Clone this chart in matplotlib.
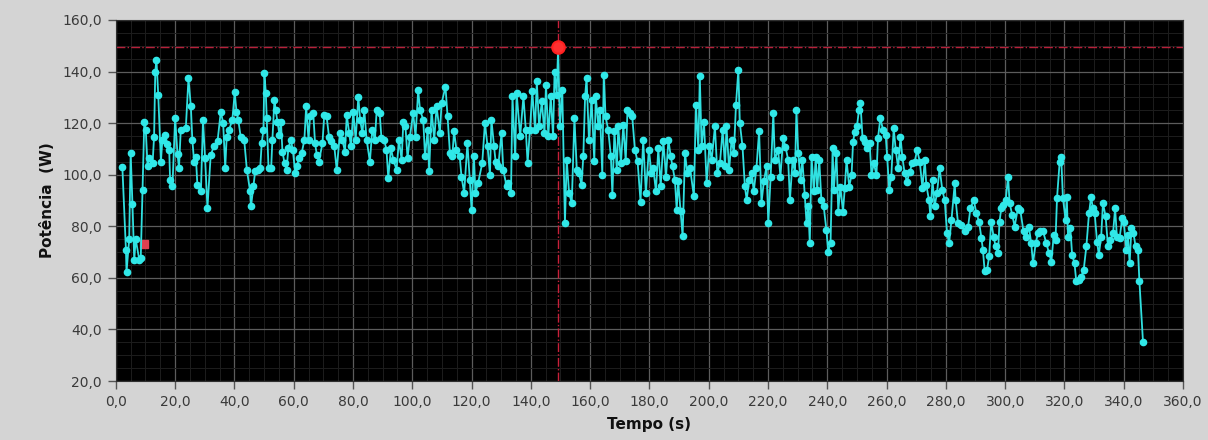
import numpy as np
import matplotlib
matplotlib.use("Agg")
import matplotlib.pyplot as plt
from matplotlib.ticker import MultipleLocator, FuncFormatter

# tempo (s) e potência (W)
tempo = [
    2.2, 3.4, 3.6, 4.5, 5.0, 5.6, 6.2, 6.7, 7.9, 8.4, 9.0, 9.6, 10.1, 10.7, 11.2, 12.4, 12.9, 13.3, 13.7, 14.3,
    15.2, 15.7, 16.6, 17.4, 18.0, 18.3, 19.1, 20.0, 20.8, 21.3, 21.9, 23.6, 24.5, 25.3, 25.8, 26.4, 27.0, 27.5, 28.7, 29.4,
    30.1, 30.9, 32.0, 33.1, 34.3, 35.4, 36.2, 36.9, 37.4, 38.2, 39.3, 40.1, 40.7, 41.3, 42.1, 43.3,
    44.2, 45.3, 45.6, 46.4, 47.0, 47.9, 48.7, 49.2, 49.8, 50.1, 50.6, 50.9, 51.5, 52.4, 52.8, 53.5, 53.9, 54.5, 55.2, 55.7,
    56.2, 56.9, 57.6, 58.2, 59.0, 59.7, 60.5, 61.0, 61.8, 62.7, 63.6, 64.2, 65.0, 65.5, 66.6, 67.2, 67.8, 68.5, 69.7, 70.3,
    71.1, 71.9, 72.6, 73.7, 74.5, 75.6, 76.4, 77.3, 77.9, 78.7, 79.3, 80.1, 80.9, 81.8, 82.4, 83.2, 83.8, 84.6, 85.7, 86.5,
    87.4, 88.0, 89.0, 89.6, 90.5, 91.3, 91.9, 92.8, 93.6, 94.7, 95.5, 96.4, 97.0, 97.7, 98.4, 99.2, 100.3, 101.1, 102.0, 102.6,
    103.7, 104.3, 105.2, 105.7, 106.5, 107.4, 108.2, 109.3, 109.9, 111.2, 111.9, 112.7, 113.5, 114.1, 114.9, 116.0, 116.6, 117.5, 118.6, 119.4,
    120.0, 120.8, 121.3, 122.2, 123.6, 124.5, 125.4, 126.2, 126.7, 127.6, 128.1, 129.0, 130.1, 130.7, 131.8,
    132.4, 133.3, 133.8, 134.7, 135.2, 136.4, 137.5, 138.3, 138.9, 139.7, 140.5, 141.4, 142.0, 142.8, 143.7, 144.6, 145.1, 145.9, 146.7, 147.5,
    148.0, 148.7, 149.2, 149.8, 150.6, 151.5, 152.1, 152.9, 153.8, 154.7, 155.5, 156.2, 157.1, 157.7, 158.3, 158.8, 159.6, 160.5, 161.4, 161.9,
    162.8, 163.3, 164.1, 164.6, 165.2, 166.1, 167.0, 167.5, 168.2, 169.0, 169.5, 170.4, 171.2, 172.0, 172.6, 173.4, 174.2, 175.1, 176.0,
    177.0, 177.9, 178.8, 179.8, 180.7, 181.3, 182.2, 183.0, 183.8, 184.7, 185.6, 186.4, 187.2, 187.8, 188.6, 189.2, 189.7, 190.5, 191.2, 192.0,
    192.8, 193.7, 195.0, 195.7, 196.5, 197.0, 197.6, 198.4, 199.3, 200.2, 201.0, 202.1, 202.9, 203.8, 204.7, 205.5, 206.0, 206.9, 207.7, 208.5,
    209.2, 210.0, 210.5, 211.4, 212.2, 212.8, 213.7, 214.5, 215.2, 216.1, 217.0, 217.8, 218.6, 219.5, 220.1, 220.9, 221.8, 222.3, 223.4, 224.2,
    225.1, 225.9, 226.8, 227.4, 228.3, 229.1, 229.6, 230.2, 231.0, 231.6, 232.4, 233.0, 233.6, 234.1, 234.7, 235.5, 236.1, 236.6, 237.3, 238.0,
    238.8, 239.7, 240.3, 241.1, 241.8, 242.2, 243.1, 243.7, 244.4, 245.3, 245.9, 246.5, 247.4, 248.2, 248.7, 249.3, 250.0, 250.7, 251.2, 251.9,
    252.6, 253.4, 254.3, 254.9, 255.7, 256.6, 257.1, 257.9, 258.8, 259.7, 260.2, 260.9, 261.6, 262.4, 263.1, 263.9, 264.7, 265.3, 266.1, 266.9,
    267.8, 268.7, 269.5, 270.3, 271.2, 272.1, 272.9, 273.4, 274.3, 274.8, 275.5, 276.2, 277.0, 277.9, 278.8, 279.6, 280.4, 281.1,
    281.9, 283.0, 283.3, 284.1, 285.2, 286.4, 287.5, 288.3, 289.4, 290.3, 291.2, 292.0, 292.5, 293.1, 293.9, 294.6, 295.3, 296.1, 296.8, 297.6,
    298.1, 298.7, 299.3, 300.2, 301.0, 301.5, 302.4, 303.2, 304.3, 305.1, 306.2, 307.1, 308.0, 308.8, 309.4, 310.3, 311.1, 311.9, 312.8, 313.9,
    314.8, 315.6, 316.4, 317.0, 317.5, 318.4, 318.9, 319.5, 320.4, 320.8, 321.2, 322.0, 322.6, 323.4, 324.0, 324.9, 325.7, 326.5, 327.4, 328.3,
    329.0, 329.6, 330.2, 331.0, 331.6, 332.4, 333.0, 333.9, 334.7, 335.5, 336.4, 337.1, 337.7, 338.6, 339.5, 340.0, 340.9, 341.4, 342.0, 342.6,
    343.3, 344.0, 344.8, 345.3, 346.5,
]
potencia = [
    102.9, 70.9, 62.2, 75.0, 108.4, 88.7, 66.8, 75.0, 67.0, 67.7, 93.9, 120.6, 117.4, 103.2, 106.4, 104.5, 114.8, 140.0, 144.5, 131.0,
    105.1, 113.5, 115.5, 112.0, 109.7, 98.0, 95.5, 122.0, 108.0, 102.6, 117.4, 118.0, 137.4, 126.5, 113.5, 105.1, 107.0, 96.1, 93.5, 121.3,
    106.4, 87.1, 107.7, 111.0, 112.9, 124.5, 120.0, 102.6, 114.8, 117.4, 121.3, 131.9, 124.5, 121.3, 114.8, 113.5,
    101.9, 93.5, 87.7, 95.5, 101.3, 101.9, 102.6, 112.2, 117.4, 139.4, 131.6, 122.0, 102.6, 102.6, 113.5, 129.0, 125.2, 120.6, 115.5, 120.6,
    109.0, 104.5, 101.9, 110.3, 113.5, 109.7, 100.6, 103.2, 106.4, 108.4, 113.5, 126.5, 113.5, 122.6, 123.9, 112.2, 107.7, 105.1, 112.2, 123.2,
    122.6, 114.8, 112.9, 111.0, 101.9, 116.1, 113.5, 109.0, 123.2, 116.1, 111.0, 124.5, 113.5, 130.3, 121.3, 116.1, 125.2, 113.5, 105.1, 117.4,
    113.5, 125.2, 123.9, 114.2, 113.5, 109.7, 98.7, 110.3, 105.8, 101.9, 113.5, 105.8, 120.6, 118.7, 106.4, 114.8, 123.9, 114.8, 132.9, 125.2,
    121.3, 107.1, 117.4, 101.3, 125.2, 113.5, 126.5, 116.1, 127.7, 134.2, 122.6, 108.4, 107.1, 116.8, 109.7, 107.1, 99.3, 92.9, 112.2, 98.0,
    86.4, 107.1, 92.9, 96.7, 104.5, 120.0, 111.0, 100.0, 121.3, 111.0, 105.1, 103.2, 116.1, 101.9, 95.5,
    96.8, 92.9, 130.4, 107.1, 131.7, 114.9, 130.4, 117.4, 104.5, 117.4, 132.3, 117.4, 136.2, 118.7, 128.4, 116.1, 134.9, 114.9, 130.4, 114.9,
    140.0, 131.0, 149.2, 118.7, 133.0, 81.3, 105.8, 92.9, 89.0, 122.0, 102.0, 100.6, 96.1, 107.1, 130.4, 137.5, 113.6, 129.1, 105.2, 130.4,
    118.7, 125.2, 100.0, 138.8, 122.6, 117.4, 107.1, 92.2, 116.8, 102.0, 118.7, 104.5, 119.4, 105.2, 125.2, 123.9, 122.6, 109.7, 105.2,
    89.6, 113.5, 92.9, 109.7, 100.6, 102.6, 93.5, 110.3, 95.5, 112.9, 99.3, 113.5, 107.1, 103.2, 98.0, 86.4, 97.4, 85.8, 76.1, 108.4,
    100.6, 102.6, 91.6, 127.1, 109.7, 138.1, 111.0, 120.6, 96.7, 111.0, 105.8, 118.7, 100.6, 104.5, 117.4, 103.2, 118.7, 101.9, 113.5, 108.4,
    127.1, 140.7, 120.0, 111.0, 95.5, 90.3, 98.0, 100.6, 93.5, 102.6, 116.8, 89.0, 97.4, 103.2, 81.2, 99.3, 123.9, 105.8, 109.7, 99.3,
    114.1, 110.9, 105.7, 90.2, 105.7, 100.6, 125.1, 108.3, 98.0, 105.7, 92.2, 81.2, 87.7, 73.4, 107.0, 93.5, 107.0, 94.1, 105.7, 90.2,
    87.7, 78.6, 70.2, 73.4, 110.3, 94.1, 108.3, 85.7, 95.4, 85.7, 94.8, 105.7, 95.4, 99.9, 112.8, 116.7, 118.7, 125.1, 127.7, 114.1,
    112.8, 110.3, 112.2, 99.9, 104.4, 99.9, 114.1, 121.9, 117.4, 115.4, 107.0, 94.1, 99.3, 118.0, 109.6, 102.5, 114.8, 107.0, 100.6, 97.3,
    101.2, 104.4, 105.1, 109.6, 105.1, 94.8, 105.7, 96.1, 90.2, 83.8, 98.0, 87.7, 92.8, 102.5, 94.1, 90.2, 77.3, 73.4,
    82.5, 96.7, 90.2, 81.2, 80.6, 78.0, 79.9, 87.0, 90.2, 85.1, 81.8, 75.4, 70.9, 62.5, 63.1, 68.3, 81.8, 76.0, 72.2, 69.6,
    81.8, 87.0, 88.3, 90.2, 99.3, 89.0, 84.4, 79.9, 87.0, 86.4, 78.0, 76.0, 79.9, 73.4, 65.7, 73.4, 77.3, 78.0, 78.0, 73.4,
    69.6, 66.3, 76.7, 74.7, 90.9, 105.1, 107.0, 90.9, 82.5, 91.5, 76.0, 79.3, 68.9, 65.7, 58.6, 59.2, 60.5, 63.1, 72.2, 85.1,
    91.5, 87.0, 85.1, 74.1, 68.9, 76.0, 89.0, 83.8, 72.2, 74.7, 77.3, 87.0, 76.0, 75.4, 83.1, 81.8, 70.9, 76.7, 65.7, 79.3,
    77.3, 72.2, 70.9, 58.6, 35.3,
]

# cursores (vermelhos)
cursor_x = 149.1
cursor_y = 149.6
cursor2 = (9.6, 73.0)

fig = plt.figure(figsize=(12.08, 4.4), dpi=100)
fig.patch.set_facecolor("#d4d4d4")
ax = fig.add_axes([0.0959, 0.134, 0.8834, 0.8206])
ax.set_facecolor("black")

ax.set_xlim(0, 360)
ax.set_ylim(20, 160)
ax.xaxis.set_major_locator(MultipleLocator(20))
ax.yaxis.set_major_locator(MultipleLocator(20))
ax.xaxis.set_minor_locator(MultipleLocator(5))
ax.yaxis.set_minor_locator(MultipleLocator(5))
virgula = FuncFormatter(lambda v, p: f"{v:.1f}".replace(".", ","))
ax.xaxis.set_major_formatter(virgula)
ax.yaxis.set_major_formatter(virgula)

ax.grid(which="major", color="#5c5c5c", linewidth=0.9)
ax.grid(which="minor", color="#1d1d1d", linewidth=0.7)
ax.set_axisbelow(True)

ax.tick_params(which="major", direction="out", length=6, width=1, color="#555555",
               labelsize=10, labelcolor="#3a3a3a", pad=4)
ax.tick_params(which="minor", length=0)
for s in ax.spines.values():
    s.set_color("#303030")

ax.axvline(cursor_x, color="#c8203a", linestyle="-.", linewidth=1.0, zorder=2)
ax.axhline(cursor_y, color="#b8203a", linestyle="-.", linewidth=1.0, zorder=2)
ax.plot([cursor2[0]], [cursor2[1]], marker="s", markersize=6, markerfacecolor="#e04050",
        markeredgecolor="#e04050", zorder=2)

ax.plot(tempo, potencia, color="#30e0e0", linewidth=1.3, marker="o", markersize=4.5,
        markerfacecolor="#30e8e8", markeredgecolor="#30e8e8", zorder=3)

ax.plot([cursor_x], [cursor_y], marker="o", markersize=9, markerfacecolor="#ff3030",
        markeredgecolor="#ff2020", markeredgewidth=1.5, zorder=4)

ax.set_xlabel("Tempo (s)", fontsize=11, fontweight="bold", color="#111111", labelpad=6)
ax.set_ylabel("Potência  (W)", fontsize=11, fontweight="bold", color="#111111", labelpad=5)

fig.savefig("out.png", dpi=100, facecolor=fig.get_facecolor())
